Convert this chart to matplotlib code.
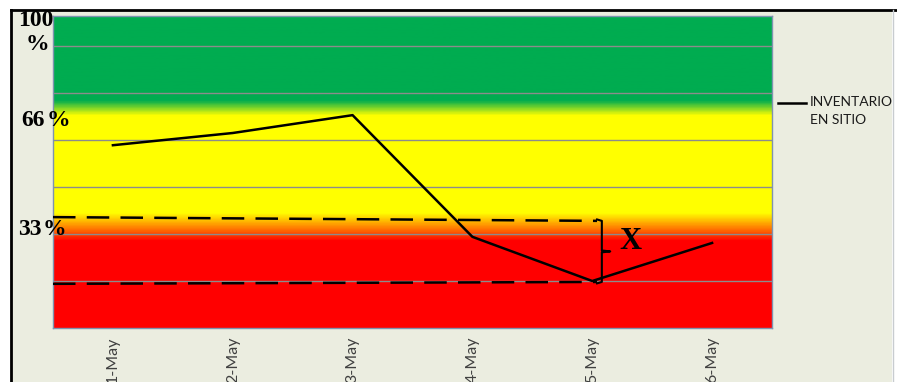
import matplotlib as mpl
import matplotlib.pyplot as plt
import numpy as np
from matplotlib.colors import LinearSegmentedColormap
from matplotlib.lines import Line2D
from matplotlib.patches import Rectangle

# data
dates = ["1-May", "2-May", "3-May", "4-May", "5-May", "6-May"]
inventario = [3.89, 4.15, 4.53, 1.94, 1.00, 1.81]
upper_dash = [2.36, 2.28]   # left end, right end
lower_dash = [0.94, 0.98]
zone_labels = ["100", "66", "33"]

YMAX = 6.64
W, H = 897, 382

fig = plt.figure(figsize=(W / 100, H / 100), dpi=100)
fig.patch.set_facecolor("white")

# background panel and frame
fig.add_artist(Rectangle((12 / W, 0), 880 / W, (H - 11) / H,
                         transform=fig.transFigure, facecolor="#ebede0",
                         edgecolor="none", zorder=0))
fig.add_artist(Line2D([11 / W, 1], [1 - 10 / H, 1 - 10 / H],
                      transform=fig.transFigure, color="black", lw=2))
fig.add_artist(Line2D([11 / W, 11 / W], [0, 1 - 10 / H],
                      transform=fig.transFigure, color="black", lw=2))
fig.add_artist(Line2D([893 / W, 893 / W], [0, 1 - 10 / H],
                      transform=fig.transFigure, color="#c8ccd0", lw=1))

ax = fig.add_axes([53 / W, 1 - 328 / H, 719 / W, 312 / H])
ax.set_xlim(-0.5, len(dates) - 0.5)
ax.set_ylim(0, YMAX)

# colour bands as a vertical gradient
stops = [(0.0, "#ff0000"), (1.85 / YMAX, "#ff0000"), (2.05 / YMAX, "#ff6000"),
         (2.25 / YMAX, "#ffb000"), (2.45 / YMAX, "#ffff00"),
         (4.53 / YMAX, "#ffff00"), (4.85 / YMAX, "#00ac50"), (1.0, "#00ac50")]
cmap = LinearSegmentedColormap.from_list("zones", stops)
grad = np.linspace(0, 1, 600).reshape(-1, 1)
ax.imshow(grad, cmap=cmap, aspect="auto", origin="lower",
          extent=[-0.5, len(dates) - 0.5, 0, YMAX], zorder=0)

for g in range(1, 7):
    ax.axhline(g, color="#8c8c8c", lw=1, zorder=1)

x = np.arange(len(dates))
line, = ax.plot(x, inventario, color="black", lw=1.8, zorder=4)

# dashed band and bracket
bx = 4.08
ax.plot([-0.5, bx - 0.04], upper_dash, color="black", lw=1.8,
        dashes=(9, 4.5), zorder=3)
ax.plot([-0.5, bx - 0.04], lower_dash, color="black", lw=1.8,
        dashes=(9, 4.5), zorder=3)
mid = (upper_dash[1] + lower_dash[1]) / 2
ax.plot([bx - 0.04, bx, bx, bx + 0.07, bx, bx, bx - 0.04],
        [upper_dash[1] + 0.03, upper_dash[1], mid + 0.02, mid, mid - 0.02,
         lower_dash[1], lower_dash[1] - 0.03],
        color="black", lw=1.5, zorder=3)
ax.text(4.32, mid + 0.22, "X", fontsize=22, fontweight="bold",
        family="Liberation Serif", ha="center", va="center", zorder=5)

ax.set_xticks(x)
ax.set_xticklabels(dates, rotation=90, fontsize=11.5, family="Lato",
                   color="#404040", va="top")
ax.tick_params(axis="x", length=0, pad=6)
ax.set_yticks([])
for s in ax.spines.values():
    s.set_color("#7f93b0")
    s.set_linewidth(1)

# zone labels
lab_font = dict(fontsize=17, fontweight="bold", family="Liberation Serif",
                color="black", va="center", transform=fig.transFigure)
fig.text(36 / W, 1 - 21 / H, zone_labels[0], ha="center", **lab_font)
fig.text(37 / W, 1 - 45 / H, "%", ha="center", **lab_font)
fig.text(45 / W, 1 - 121 / H, zone_labels[1], ha="right", **lab_font)
fig.text(47 / W, 1 - 121 / H, "%", ha="left", **lab_font)
fig.text(42 / W, 1 - 229 / H, zone_labels[2], ha="right", **lab_font)
fig.text(43 / W, 1 - 229 / H, "%", ha="left", **lab_font)

# legend
fig.add_artist(Line2D([778 / W, 806 / W], [1 - 103 / H, 1 - 103 / H],
                      transform=fig.transFigure, color="black", lw=1.8))
fig.text(810 / W, 1 - 96 / H, "INVENTARIO\nEN SITIO", ha="left", va="top",
         fontsize=10, family="Lato", color="#1a1a1a", linespacing=1.6,
         transform=fig.transFigure)

fig.savefig("out.png", dpi=100)
